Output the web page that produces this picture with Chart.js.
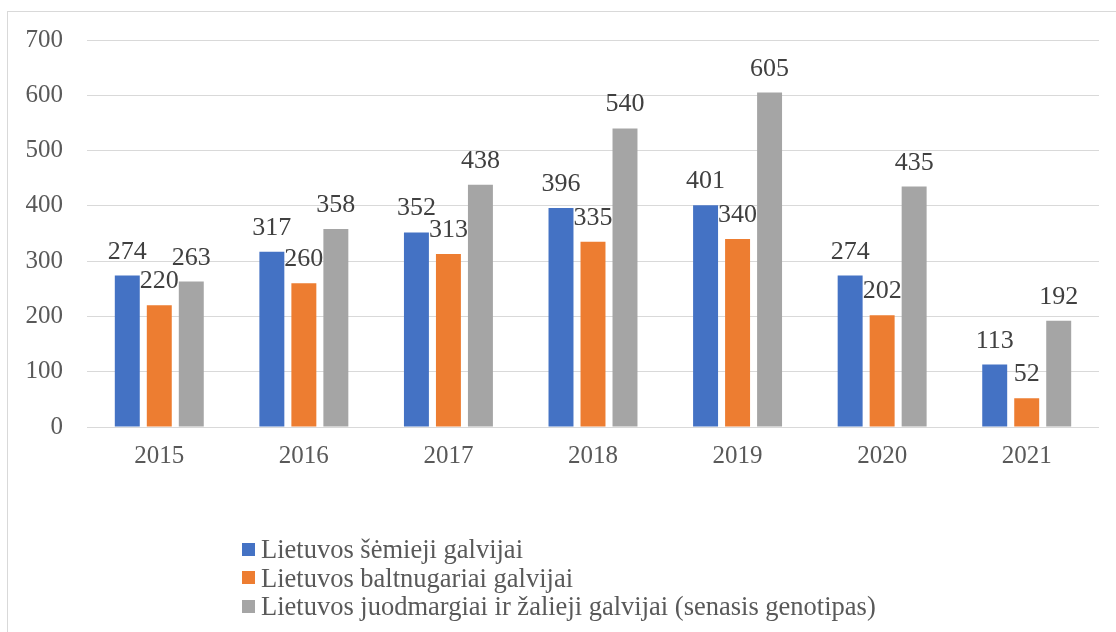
<!DOCTYPE html>
<html>
<head>
<meta charset="utf-8">
<script src="https://cdn.jsdelivr.net/npm/chart.js@4.4.0/dist/chart.umd.min.js"></script>
<style>
  html, body { margin: 0; padding: 0; background: #ffffff; }
  #wrap { position: relative; width: 1116px; height: 632px; overflow: hidden; background: #fff; }
  #frame { position: absolute; left: 7px; top: 11px; width: 1200px; height: 700px; border: 1px solid #d9d9d9; }
  #chart { position: absolute; left: 0; top: 0; }
  #legend { position: absolute; left: 242px; top: 535px; font-family: 'Liberation Serif', 'Times New Roman', serif; font-size: 26.5px; color: #595959; }
  #legend .row { height: 28.5px; line-height: 28.5px; white-space: nowrap; display: flex; align-items: center; }
  #legend .sw { display: inline-block; width: 13px; height: 13px; margin-right: 6px; flex: none; }
</style>
</head>
<body>
<div id="wrap">
  <div id="frame"></div>
  <canvas id="chart" width="1116" height="632"></canvas>
  <div id="legend"></div>
</div>
<script>
const categories = ['2015', '2016', '2017', '2018', '2019', '2020', '2021'];
const seriesNames = [
  'Lietuvos šėmieji galvijai',
  'Lietuvos baltnugariai galvijai',
  'Lietuvos juodmargiai ir žalieji galvijai (senasis genotipas)'
];
const semieji = [274, 317, 352, 396, 401, 274, 113];
const baltnugariai = [220, 260, 313, 335, 340, 202, 52];
const juodmargiai = [263, 358, 438, 540, 605, 435, 192];
const yTicks = [0, 100, 200, 300, 400, 500, 600, 700];
const seriesColors = ['#4472C4', '#ED7D31', '#A5A5A5'];

const FONT = "'Liberation Serif', 'Times New Roman', serif";

const valueLabels = {
  id: 'valueLabels',
  afterDatasetsDraw(chart) {
    const ctx = chart.ctx;
    ctx.save();
    ctx.font = '26px ' + FONT;
    ctx.fillStyle = '#404040';
    ctx.textAlign = 'center';
    ctx.textBaseline = 'alphabetic';
    chart.data.datasets.forEach((ds, di) => {
      const meta = chart.getDatasetMeta(di);
      meta.data.forEach((bar, i) => {
        ctx.fillText(String(ds.data[i]), bar.x, bar.y - 17);
      });
    });
    ctx.restore();
  }
};

const seriesData = [semieji, baltnugariai, juodmargiai];

const chart = new Chart(document.getElementById('chart'), {
  type: 'bar',
  data: {
    labels: categories,
    datasets: seriesNames.map((name, i) => ({
      label: name,
      data: seriesData[i],
      backgroundColor: seriesColors[i],
      borderWidth: 0,
      categoryPercentage: 0.664,
      barPercentage: 0.78
    }))
  },
  options: {
    responsive: false,
    animation: false,
    devicePixelRatio: 1,
    layout: { padding: { left: 0, right: 17, top: 40, bottom: 0 } },
    plugins: {
      legend: { display: false },
      tooltip: { enabled: false }
    },
    scales: {
      x: {
        grid: { display: false, drawTicks: false },
        border: { display: false },
        ticks: { font: { family: FONT, size: 25 }, color: '#595959', padding: 14 },
        afterFit(scale) { scale.height = 205; }
      },
      y: {
        min: 0,
        max: 700,
        afterBuildTicks(scale) { scale.ticks = yTicks.map(v => ({ value: v })); },
        grid: { color: '#d9d9d9', lineWidth: 1, drawTicks: false },
        border: { display: false },
        ticks: { font: { family: FONT, size: 25 }, color: '#595959', padding: 24 },
        afterFit(scale) { scale.width = 87; }
      }
    }
  },
  plugins: [valueLabels]
});

const legendEl = document.getElementById('legend');
chart.data.datasets.forEach(ds => {
  const row = document.createElement('div');
  row.className = 'row';
  const sw = document.createElement('span');
  sw.className = 'sw';
  sw.style.background = ds.backgroundColor;
  const tx = document.createElement('span');
  tx.textContent = ds.label;
  row.appendChild(sw);
  row.appendChild(tx);
  legendEl.appendChild(row);
});
</script>
</body>
</html>
